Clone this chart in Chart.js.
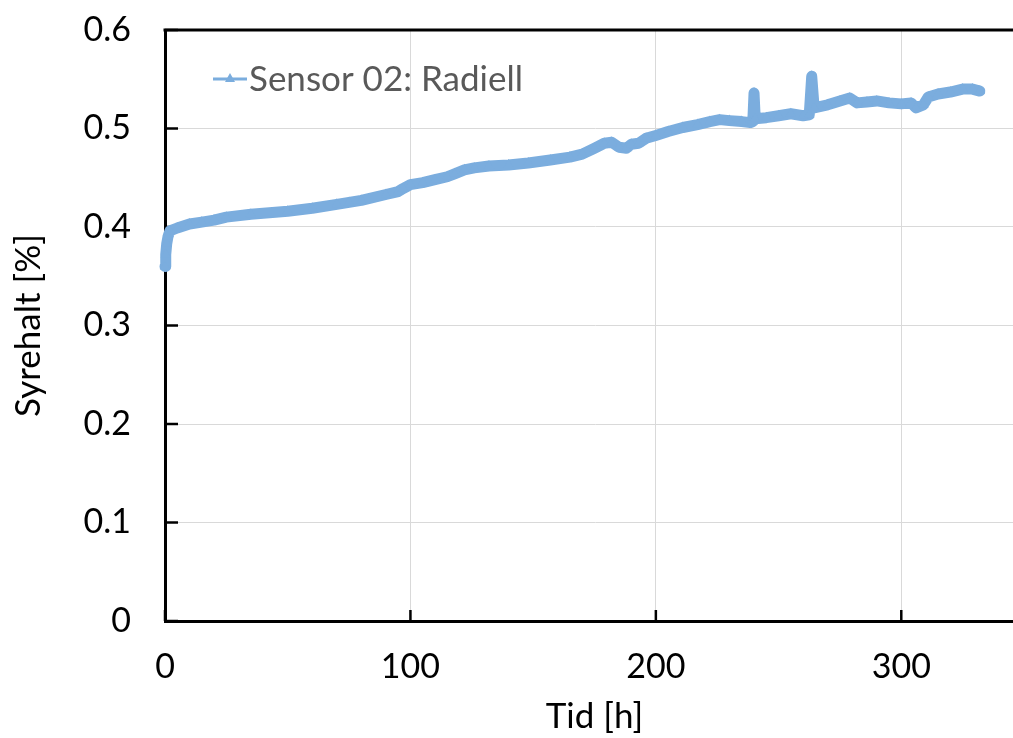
<!DOCTYPE html>
<html>
<head>
<meta charset="utf-8">
<title>Syrehalt</title>
<script src="https://cdn.jsdelivr.net/npm/chart.js@4/dist/chart.umd.min.js"></script>
<style>
  html, body { margin: 0; padding: 0; background: #fff; overflow: hidden; }
  #wrap { width: 1030px; height: 738px; }
</style>
</head>
<body>
<div id="wrap"><canvas id="o2-chart" width="1030" height="738"></canvas></div>
<script>
// Oxygen content, sensor 02 (radial), against time in hours
const hours = [
  0, 0.3, 0.7, 1.2, 2, 5, 10, 15, 20, 25, 35, 50, 60, 70, 75, 80, 90, 95, 97, 100,
  105, 110, 115, 118, 122, 126, 132, 140, 148, 157, 165, 170, 175, 179, 182, 185,
  188, 190, 193, 196, 200, 205, 211, 217, 222, 226, 230, 235, 238.5, 239.5, 240,
  240.5, 245, 250, 255, 260, 262.5, 263.5, 264.5, 270, 275, 279, 282, 286, 290,
  295, 300, 304, 306, 309, 311, 315, 320, 325, 329, 332
];
const oxygen = [
  0.360, 0.372, 0.383, 0.390, 0.396, 0.399, 0.403, 0.405, 0.407, 0.410, 0.413,
  0.416, 0.419, 0.423, 0.425, 0.427, 0.433, 0.436, 0.439, 0.443, 0.445, 0.448,
  0.451, 0.454, 0.458, 0.460, 0.462, 0.463, 0.465, 0.468, 0.471, 0.474, 0.480,
  0.485, 0.486, 0.481, 0.480, 0.484, 0.485, 0.490, 0.493, 0.497, 0.501, 0.504,
  0.507, 0.509, 0.508, 0.507, 0.506, 0.507, 0.536, 0.510, 0.511, 0.513, 0.515,
  0.513, 0.514, 0.553, 0.521, 0.524, 0.528, 0.531, 0.526, 0.527, 0.528, 0.526,
  0.525, 0.526, 0.521, 0.524, 0.532, 0.535, 0.537, 0.540, 0.540, 0.538
];
const xTicks = [0, 100, 200, 300];
const yTicks = [0, 0.1, 0.2, 0.3, 0.4, 0.5, 0.6];
const seriesName = 'Sensor 02: Radiell';

const lineColor = '#7badde';
const fontFamily = 'Lato, "Open Sans", sans-serif';

// inward tick marks plus top/right frame lines
const frame = {
  id: 'frame',
  beforeDatasetsDraw(chart) {
    const { ctx, chartArea, scales } = chart;
    ctx.save();
    ctx.strokeStyle = '#000';
    ctx.lineWidth = 2.5;
    yTicks.forEach(v => {
      const y = scales.y.getPixelForValue(v);
      ctx.beginPath();
      ctx.moveTo(chartArea.left, y);
      ctx.lineTo(chartArea.left + 13, y);
      ctx.stroke();
    });
    xTicks.forEach(v => {
      const x = scales.x.getPixelForValue(v);
      ctx.beginPath();
      ctx.moveTo(x, chartArea.bottom);
      ctx.lineTo(x, chartArea.bottom - 11);
      ctx.stroke();
    });
    ctx.lineWidth = 3;
    ctx.beginPath();
    ctx.moveTo(chartArea.left - 1.5, chartArea.top);
    ctx.lineTo(chartArea.right, chartArea.top);
    ctx.lineTo(chartArea.right, chartArea.bottom);
    ctx.stroke();
    ctx.restore();
  },
  afterDraw(chart) {
    // legend inside the plot
    const { ctx } = chart;
    const y = 79;
    ctx.save();
    ctx.strokeStyle = lineColor;
    ctx.fillStyle = lineColor;
    ctx.lineWidth = 3;
    ctx.beginPath();
    ctx.moveTo(213, y);
    ctx.lineTo(247, y);
    ctx.stroke();
    ctx.beginPath();
    ctx.moveTo(230, y - 6);
    ctx.lineTo(235, y + 3);
    ctx.lineTo(225, y + 3);
    ctx.closePath();
    ctx.fill();
    ctx.fillStyle = '#595959';
    ctx.font = '35px ' + fontFamily;
    ctx.textBaseline = 'middle';
    ctx.fillText(seriesName, 249, y + 1);
    ctx.restore();
  }
};

new Chart(document.getElementById('o2-chart'), {
  type: 'line',
  data: {
    datasets: [{
      label: seriesName,
      data: hours.map((h, i) => ({ x: h, y: oxygen[i] })),
      borderColor: lineColor,
      backgroundColor: lineColor,
      borderWidth: 11,
      borderJoinStyle: 'round',
      borderCapStyle: 'round',
      pointStyle: 'triangle',
      pointRadius: 6,
      pointBorderWidth: 0,
      tension: 0,
      fill: false,
      clip: false
    }]
  },
  options: {
    responsive: false,
    animation: false,
    layout: { padding: { top: 30, right: 6, left: 0, bottom: 0 } },
    plugins: {
      legend: { display: false },
      tooltip: { enabled: false }
    },
    scales: {
      x: {
        type: 'linear',
        min: 0,
        max: 350,
        afterBuildTicks(scale) {
          scale.ticks = xTicks.map(v => ({ value: v }));
        },
        afterFit(scale) {
          scale.height = 117;
          scale.paddingLeft = 0;
          scale.paddingRight = 0;
        },
        grid: { color: '#d9d9d9', lineWidth: 1, drawTicks: false },
        border: { color: '#000', width: 3 },
        ticks: {
          padding: 26,
          color: '#000',
          font: { family: fontFamily, size: 34 }
        },
        title: {
          display: true,
          text: 'Tid [h]',
          color: '#000',
          padding: 0,
          font: { family: fontFamily, size: 35 }
        }
      },
      y: {
        min: 0,
        max: 0.6,
        afterBuildTicks(scale) {
          scale.ticks = yTicks.map(v => ({ value: v }));
        },
        afterFit(scale) {
          scale.width = 165;
          scale.paddingTop = 0;
          scale.paddingBottom = 0;
        },
        grid: { color: '#d9d9d9', lineWidth: 1, drawTicks: false },
        border: { color: '#000', width: 3 },
        ticks: {
          padding: 34,
          color: '#000',
          font: { family: fontFamily, size: 34 },
          callback: v => v === 0 ? '0' : v.toFixed(1)
        },
        title: {
          display: true,
          text: 'Syrehalt [%]',
          color: '#000',
          padding: { top: 8, bottom: 0 },
          font: { family: fontFamily, size: 35 }
        }
      }
    }
  },
  plugins: [frame]
});
</script>
</body>
</html>
